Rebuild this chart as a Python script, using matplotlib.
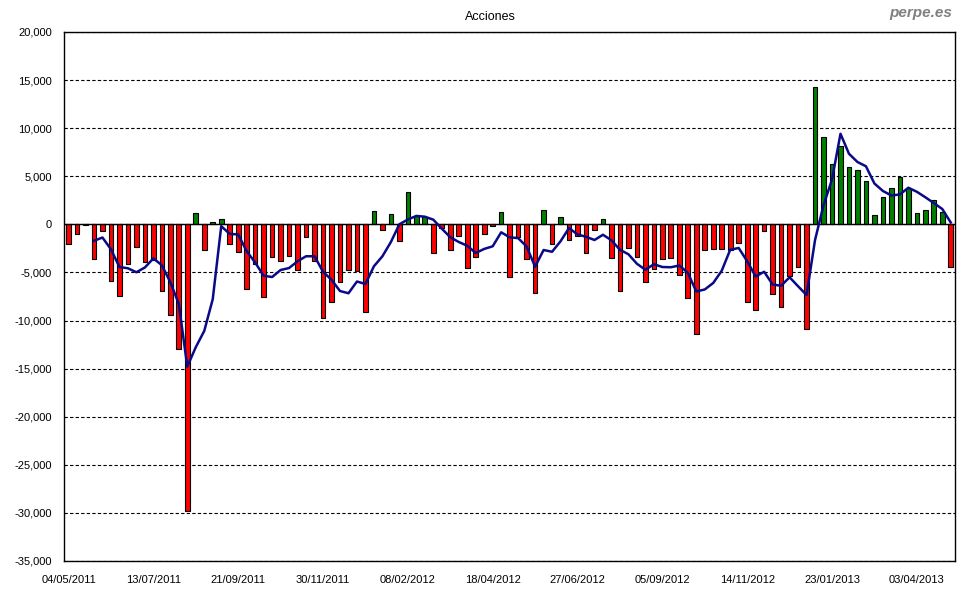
import numpy as np
import pandas as pd
import matplotlib
matplotlib.use("Agg")
import matplotlib.pyplot as plt
from matplotlib.ticker import FuncFormatter, MultipleLocator

plt.rcParams["font.family"] = ["Liberation Sans", "DejaVu Sans"]

# weekly net flows (one bar per week from 04/05/2011)
flows_2011 = [
    -2070, -1030, -100, -3630, -720, -5920, -7470, -4150, -2380, -3940,
    -3700, -6960, -9450, -12980, -29800, 1150, -2690, 220, 560, -2070,
    -2900, -6750, -4150, -7580, -3420, -3840, -3320, -4770, -1340, -3840,
    -9760, -8100, -6020, -4770, -4880, -9140,
]
flows_2012 = [
    1360, -620, 1050, -1760, 3340, 870, 740, -3000, -400, -2690,
    -1240, -4560, -3420, -1000, -150, 1260, -5500, -1340, -3630, -7160,
    1460, -2070, 740, -1650, -1240, -3000, -620, 530, -3520, -6960,
    -2480, -3420, -6020, -4670, -3630, -3520, -5290, -7680, -11420, -2690,
    -2590, -2590, -2690, -1960, -8100, -8930, -720, -7270, -8620, -5400,
    -4460, -10900,
]
flows_2013 = [
    14250, 9050, 6250, 8120, 5940, 5620, 4480, 950, 2830, 3750,
    4900, 3750, 1150, 1470, 2500, 1260, -4460,
]
flows = np.array(flows_2011 + flows_2012 + flows_2013)

tick_labels = [
    "04/05/2011", "13/07/2011", "21/09/2011", "30/11/2011", "08/02/2012",
    "18/04/2012", "27/06/2012", "05/09/2012", "14/11/2012", "23/01/2013",
    "03/04/2013",
]

# 4-week moving average, as in the source chart
moving_avg = pd.Series(flows).rolling(4).mean()

x = np.arange(len(flows))
colors = np.where(flows >= 0, "#008000", "#ff0000")

fig = plt.figure(figsize=(9.8, 6.0), dpi=100)
ax = fig.add_axes([0.0656, 0.065, 0.9089, 0.8817])

ax.bar(x, flows, width=0.55, color=colors, edgecolor="black", linewidth=0.8, zorder=3)
ax.plot(x, moving_avg, color="#0a0a88", linewidth=1.8, zorder=4)
ax.axhline(0, color="black", linewidth=1.0, zorder=3.5)

ax.set_xlim(-0.5, len(flows) - 0.5)
ax.set_ylim(-35000, 20000)
ax.yaxis.set_major_locator(MultipleLocator(5000))
ax.yaxis.set_major_formatter(FuncFormatter(lambda v, _: f"{int(v):,}"))
ax.set_xticks(np.arange(0, 10 * len(tick_labels), 10))
ax.set_xticklabels(tick_labels)
ax.tick_params(axis="both", length=0, labelsize=8, colors="black")
ax.tick_params(axis="x", pad=10)
ax.tick_params(axis="y", pad=9)

ax.grid(axis="y", color="black", linestyle=(0, (3, 2)), linewidth=0.8, zorder=1)
for spine in ax.spines.values():
    spine.set_color("black")
    spine.set_linewidth(1.0)

fig.text(0.5, 0.972, "Acciones", ha="center", va="center", fontsize=9)
fig.text(0.972, 0.978, "perpe.es", ha="right", va="center", fontsize=11,
         fontweight="bold", fontstyle="italic", color="#808080")

fig.savefig("out.png", dpi=100)
